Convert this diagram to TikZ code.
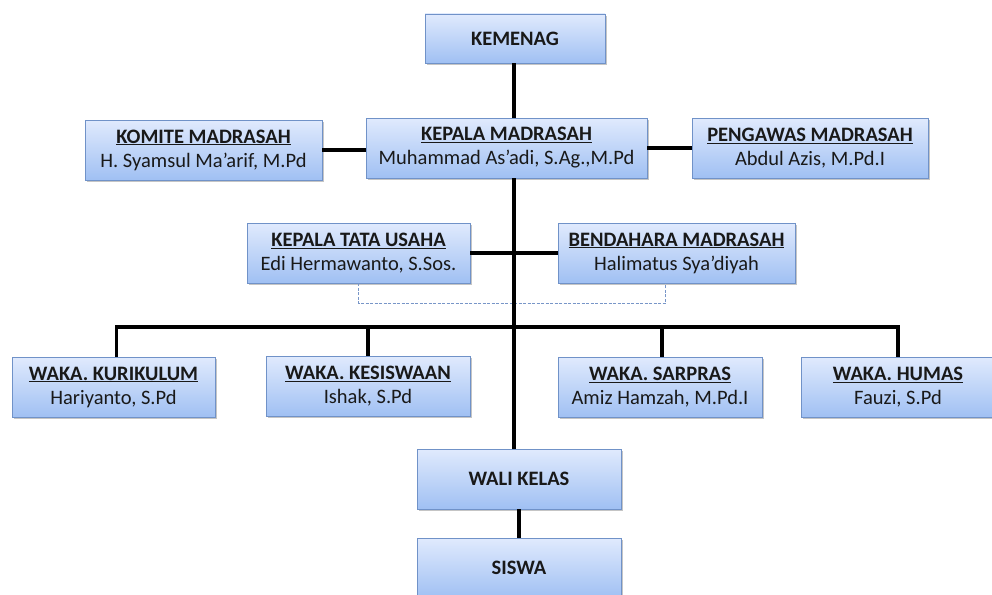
\documentclass[tikz,border=0pt]{standalone}
\usepackage{fontspec}
\setmainfont{Carlito}
\usetikzlibrary{shadows}
\definecolor{boxtop}{RGB}{224,234,253}
\definecolor{boxbot}{RGB}{160,192,243}
\definecolor{boxline}{RGB}{112,146,200}
\definecolor{dashblue}{RGB}{120,150,200}
\tikzset{
  unit/.style={draw=boxline, line width=0.9pt, top color=boxtop, bottom color=boxbot,
    drop shadow={shadow xshift=2pt, shadow yshift=-2pt, fill=black!45, opacity=0.5},
    align=center, inner sep=0pt, minimum height=60pt, text=black!90,
    font=\fontsize{20.5}{24}\selectfont},
  link/.style={line width=3.6pt},
  dashlink/.style={draw=dashblue, line width=0.8pt, dash pattern=on 3pt off 1.5pt}
}
\newcommand{\post}[2]{\underline{\textbf{#1}}\\#2}
\begin{document}
\begin{tikzpicture}[x=1pt,y=1pt,yscale=-1,xscale=1]
\useasboundingbox (0,0) rectangle (992,594);

% units
\node[unit, minimum width=180pt, minimum height=49pt] (kemenag) at (515,38.5) {\textbf{KEMENAG}};
\node[unit, minimum width=281pt] (kepala) at (506.5,148) {\post{KEPALA MADRASAH}{Muhammad As'adi, S.Ag.,M.Pd}};
\node[unit, minimum width=237pt] (komite) at (203.5,150) {\post{KOMITE MADRASAH}{H. Syamsul Ma'arif, M.Pd}};
\node[unit, minimum width=236pt] (pengawas) at (810,148) {\post{PENGAWAS MADRASAH}{Abdul Azis, M.Pd.I}};
\node[unit, minimum width=223pt] (tu) at (358.5,253) {\post{KEPALA TATA USAHA}{Edi Hermawanto, S.Sos.}};
\node[unit, minimum width=237pt] (bendahara) at (676.5,253) {\post{BENDAHARA MADRASAH}{Halimatus Sya'diyah}};
\node[unit, minimum width=203pt] (kurikulum) at (113.5,387) {\post{WAKA. KURIKULUM}{Hariyanto, S.Pd}};
\node[unit, minimum width=204pt] (kesiswaan) at (368,386) {\post{WAKA. KESISWAAN}{Ishak, S.Pd}};
\node[unit, minimum width=204pt] (sarpras) at (660,387) {\post{WAKA. SARPRAS}{Amiz Hamzah, M.Pd.I}};
\node[unit, minimum width=194pt] (humas) at (898,387) {\post{WAKA. HUMAS}{Fauzi, S.Pd}};
\node[unit, minimum width=204pt] (wali) at (519,479) {\textbf{WALI KELAS}};
\node[unit, minimum width=204pt] (siswa) at (519,568) {\textbf{SISWA}};

% spine and bus
\coordinate (spinetop) at (514,0);
\coordinate (bus) at (514,327);

% dashed coordination line
\draw[dashlink] (tu.south) -- ++(0,20) -| ([xshift=-11pt]bendahara.south);

% connectors
\draw[link] (kemenag.south -| spinetop) -- (kepala.north -| spinetop);
\draw[link] (komite.east) -- (komite.east -| kepala.west);
\draw[link] (kepala.east) -- (kepala.east -| pengawas.west);
\draw[link] (kepala.south -| spinetop) -- (wali.north -| spinetop);
\draw[link] (tu.east) -- (tu.east -| bendahara.west);
\draw[link] ([xshift=3pt]kurikulum.north) |- (bus) -| (humas.north);
\draw[link] (kesiswaan.north) -- (kesiswaan.north |- bus);
\draw[link] ([xshift=2pt]sarpras.north) -- ([xshift=2pt]sarpras.north |- bus);
\draw[link] (wali.south) -- (siswa.north);

\end{tikzpicture}
\end{document}
